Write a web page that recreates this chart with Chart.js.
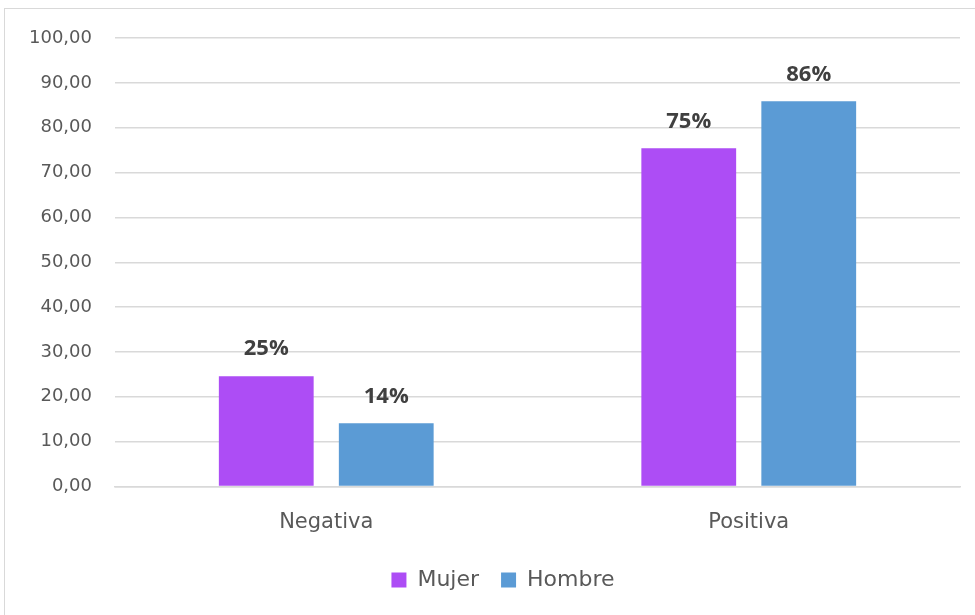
<!DOCTYPE html>
<html>
<head>
<meta charset="utf-8">
<script src="https://cdn.jsdelivr.net/npm/chart.js@4"></script>
<style>
  html, body { margin: 0; padding: 0; background: #fff; }
  #wrap { position: relative; width: 975px; height: 615px; }
  #frame { position: absolute; left: 4px; top: 8px; width: 980px; height: 620px; border: 1.5px solid #d9d9d9; box-sizing: border-box; pointer-events: none; }
</style>
</head>
<body>
<div id="wrap">
  <canvas id="myChart" width="975" height="615"></canvas>
  <div id="frame"></div>
</div>
<script>
const categories = ['Negativa', 'Positiva'];
const mujer = [24.6, 75.4];
const hombre = [14.1, 85.9];
const yTicks = [0, 10, 20, 30, 40, 50, 60, 70, 80, 90, 100];

const font = "'DejaVu Sans', sans-serif";
const labelFont = "'Open Sans', 'Noto Sans', sans-serif";

// etiquetas de porcentaje encima de cada barra
const barLabels = {
    id: 'barLabels',
    afterDatasetsDraw(chart) {
        const ctx = chart.ctx;
        ctx.save();
        ctx.font = "bold 22px " + labelFont;
        ctx.fillStyle = '#404040';
        ctx.textAlign = 'center';
        ctx.textBaseline = 'middle';
        chart.data.datasets.forEach((ds, i) => {
            chart.getDatasetMeta(i).data.forEach((bar, j) => {
                ctx.fillText(Math.round(ds.data[j]) + '%', bar.x, bar.y - 27);
            });
        });
        ctx.restore();
    }
};

// la leyenda va centrada en el marco, un poco a la derecha
const legendShift = {
    id: 'legendShift',
    afterLayout(chart) {
        chart.legend.left += 18;
        chart.legend.right += 18;
    }
};

new Chart(document.getElementById('myChart'), {
    type: 'bar',
    data: {
        labels: categories,
        datasets: [
            { label: 'Mujer', data: mujer, backgroundColor: '#ad4df5' },
            { label: 'Hombre', data: hombre, backgroundColor: '#5b9bd5' }
        ]
    },
    options: {
        responsive: false,
        animation: false,
        categoryPercentage: 0.568,
        barPercentage: 0.79,
        layout: { padding: { left: 10, right: 15, top: 38, bottom: 14 } },
        plugins: {
            legend: {
                position: 'bottom',
                labels: {
                    boxWidth: 15, boxHeight: 15, padding: 22,
                    color: '#595959',
                    font: { family: font, size: 22 }
                }
            },
            tooltip: { enabled: false }
        },
        scales: {
            x: {
                grid: { display: false, drawTicks: false },
                border: { color: '#d9d9d9', width: 1.5 },
                ticks: { color: '#595959', padding: 23, font: { family: font, size: 21 } },
                afterFit(s) { s.height = 60.5; }
            },
            y: {
                min: 0, max: 100,
                afterBuildTicks(s) { s.ticks = yTicks.map(v => ({ value: v })); },
                grid: { color: '#d9d9d9', lineWidth: 1.5, drawTicks: false },
                border: { display: false },
                ticks: {
                    color: '#595959', padding: 23,
                    font: { family: font, size: 18 },
                    callback: v => v.toFixed(2).replace('.', ',')
                },
                afterFit(s) { s.width = 105; }
            }
        }
    },
    plugins: [barLabels, legendShift]
});
</script>
</body>
</html>
